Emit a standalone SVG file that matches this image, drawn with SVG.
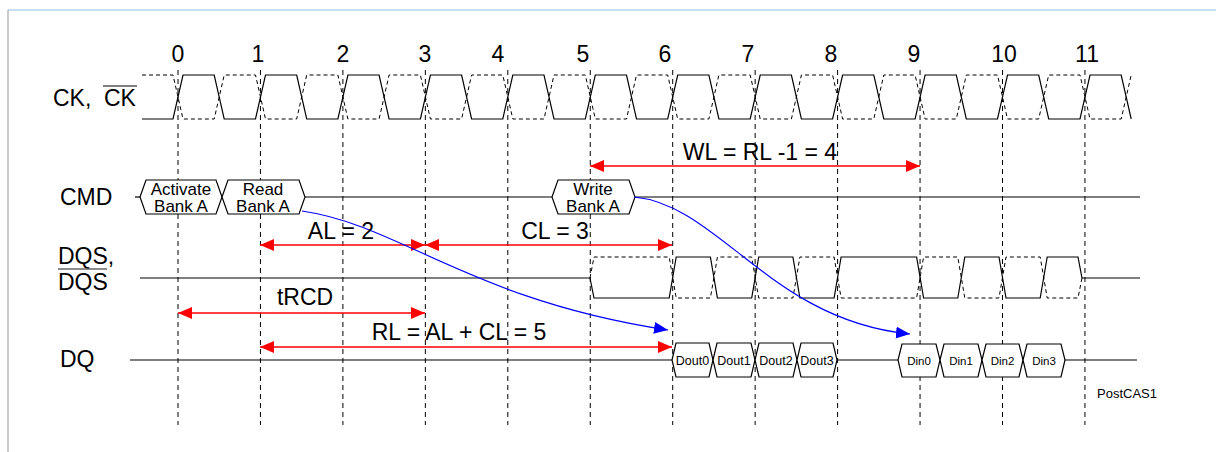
<svg xmlns="http://www.w3.org/2000/svg" width="1216" height="452" viewBox="0 0 1216 452">
<style>
text{font-family:"Liberation Sans",Arial,sans-serif;fill:#000}
.lbl{font-size:23px}
.num{font-size:23px;text-anchor:middle}
.cmd{font-size:17px;text-anchor:middle}
.dout{font-size:12.5px;text-anchor:middle}
.din{font-size:11.5px;text-anchor:middle}
.sol{fill:none;stroke:#000;stroke-width:1.2}
.dsh{fill:none;stroke:#000;stroke-width:1;stroke-dasharray:4 3}
.grid{fill:none;stroke:#000;stroke-width:1;stroke-dasharray:5 4}
.hex{fill:#fff;stroke:#000;stroke-width:1.2}
.red{fill:none;stroke:#f00;stroke-width:1.3;marker-start:url(#ra);marker-end:url(#ra)}
.blue{fill:none;stroke:#00f;stroke-width:1.2;marker-end:url(#ba)}
</style>
<defs>
<marker id="ra" viewBox="0 0 14 12" refX="14" refY="6" markerWidth="14" markerHeight="12" markerUnits="userSpaceOnUse" orient="auto-start-reverse"><path d="M0,0 L14,6 L0,12 Z" fill="#f00"/></marker>
<marker id="ba" viewBox="0 0 14 12" refX="14" refY="6" markerWidth="14" markerHeight="12" markerUnits="userSpaceOnUse" orient="auto"><path d="M0,0 L14,6 L0,12 Z" fill="#00f"/></marker>
</defs>
<rect width="1216" height="452" fill="#fff"/>
<g id="frame">
<line x1="8" y1="10" x2="1216" y2="10" stroke="#8fc3e6" stroke-width="1.2"/>
<line x1="8" y1="10" x2="8" y2="452" stroke="#999" stroke-width="1"/>
</g>
<g id="grid">
<line class="grid" x1="178" y1="70" x2="178" y2="425"/>
<line class="grid" x1="260.45" y1="70" x2="260.45" y2="425"/>
<line class="grid" x1="342.9" y1="70" x2="342.9" y2="425"/>
<line class="grid" x1="425.35" y1="70" x2="425.35" y2="425"/>
<line class="grid" x1="507.8" y1="70" x2="507.8" y2="425"/>
<line class="grid" x1="590.25" y1="70" x2="590.25" y2="425"/>
<line class="grid" x1="672.7" y1="70" x2="672.7" y2="425"/>
<line class="grid" x1="755.15" y1="70" x2="755.15" y2="425"/>
<line class="grid" x1="837.6" y1="70" x2="837.6" y2="425"/>
<line class="grid" x1="920.05" y1="70" x2="920.05" y2="425"/>
<line class="grid" x1="1002.5" y1="70" x2="1002.5" y2="425"/>
<line class="grid" x1="1084.95" y1="70" x2="1084.95" y2="425"/>
</g>
<g id="numbers">
<text class="num" x="178" y="62">0</text>
<text class="num" x="258" y="62">1</text>
<text class="num" x="343" y="62">2</text>
<text class="num" x="425" y="62">3</text>
<text class="num" x="498" y="62">4</text>
<text class="num" x="583" y="62">5</text>
<text class="num" x="665" y="62">6</text>
<text class="num" x="748" y="62">7</text>
<text class="num" x="831" y="62">8</text>
<text class="num" x="914" y="62">9</text>
<text class="num" x="1004" y="62">10</text>
<text class="num" x="1087" y="62">11</text>
</g>
<g id="labels">
<text class="lbl" x="53" y="106">CK,</text>
<text class="lbl" x="104" y="106">CK</text>
<line x1="103" y1="86" x2="137" y2="86" stroke="#000" stroke-width="1.2"/>
<text class="lbl" x="60" y="205">CMD</text>
<text class="lbl" x="58" y="264">DQS,</text>
<line x1="58" y1="269" x2="107" y2="269" stroke="#666" stroke-width="1.5"/>
<text class="lbl" x="58" y="290">DQS</text>
<text class="lbl" x="60" y="367">DQ</text>
<text x="1097" y="398" style="font-size:13px">PostCAS1</text>
</g>
<g id="ck">
<path class="dsh" d="M142,75 L173,75 L183,119 L214.2,119 L224.2,75 L255.5,75 L265.5,119 L296.7,119 L306.7,75 L337.9,75 L347.9,119 L379.1,119 L389.1,75 L420.4,75 L430.4,119 L461.6,119 L471.6,75 L502.8,75 L512.8,119 L544,119 L554,75 L585.3,75 L595.3,119 L626.5,119 L636.5,75 L667.7,75 L677.7,119 L708.9,119 L718.9,75 L750.2,75 L760.2,119 L791.4,119 L801.4,75 L832.6,75 L842.6,119 L873.8,119 L883.8,75 L915.1,75 L925.1,119 L956.3,119 L966.3,75 L997.5,75 L1007.5,119 L1038.7,119 L1048.7,75 L1080,75 L1090,119 L1121.2,119 L1131.2,75"/>
<path class="sol" d="M142,119 L173,119 L183,75 L214.2,75 L224.2,119 L255.5,119 L265.5,75 L296.7,75 L306.7,119 L337.9,119 L347.9,75 L379.1,75 L389.1,119 L420.4,119 L430.4,75 L461.6,75 L471.6,119 L502.8,119 L512.8,75 L544,75 L554,119 L585.3,119 L595.3,75 L626.5,75 L636.5,119 L667.7,119 L677.7,75 L708.9,75 L718.9,119 L750.2,119 L760.2,75 L791.4,75 L801.4,119 L832.6,119 L842.6,75 L873.8,75 L883.8,119 L915.1,119 L925.1,75 L956.3,75 L966.3,119 L997.5,119 L1007.5,75 L1038.7,75 L1048.7,119 L1080,119 L1090,75 L1121.2,75 L1131.2,119"/>
</g>
<g id="cmd">
<line class="sol" x1="135" y1="197" x2="140" y2="197"/>
<line class="sol" x1="305" y1="197" x2="552" y2="197"/>
<line class="sol" x1="635" y1="197" x2="1140" y2="197"/>
</g>
<g id="activate">
<polygon class="hex" points="140,197 146,180 216,180 222,197 216,214 146,214"/>
<text class="cmd" x="181" y="195">Activate</text>
<text class="cmd" x="181" y="212">Bank A</text>
</g>
<g id="read">
<polygon class="hex" points="222,197 228,180 299,180 305,197 299,214 228,214"/>
<text class="cmd" x="263" y="195">Read</text>
<text class="cmd" x="263" y="212">Bank A</text>
</g>
<g id="write">
<polygon class="hex" points="552,197 558,180 629,180 635,197 629,214 558,214"/>
<text class="cmd" x="593" y="195">Write</text>
<text class="cmd" x="593" y="212">Bank A</text>
</g>
<g id="dqs">
<path class="dsh" d="M590,278 L594,257 L669.2,257 L676.2,298 L710.4,298 L717.4,257 L751.7,257 L758.7,298 L792.9,298 L799.9,257 L834.1,257 L841.1,298 L916.6,298 L923.6,257 L957.8,257 L964.8,298 L999,298 L1006,257 L1040.2,257 L1047.2,298 L1078,298 L1082,278"/>
<path class="sol" d="M140,278 L590,278 L594,298 L669.2,298 L676.2,257 L710.4,257 L717.4,298 L751.7,298 L758.7,257 L792.9,257 L799.9,298 L834.1,298 L841.1,257 L916.6,257 L923.6,298 L957.8,298 L964.8,257 L999,257 L1006,298 L1040.2,298 L1047.2,257 L1078,257 L1082,278 L1140,278"/>
</g>
<g id="dq">
<line class="sol" x1="130" y1="360" x2="672" y2="360"/>
<line class="sol" x1="837" y1="360" x2="898" y2="360"/>
<line class="sol" x1="1065" y1="360" x2="1137" y2="360"/>
</g>
<g id="dout0"><polygon class="hex" points="672,360 676,343 709,343 713,360 709,377 676,377"/><text class="dout" x="692.5" y="365">Dout0</text></g>
<g id="dout1"><polygon class="hex" points="713,360 717,343 751,343 755,360 751,377 717,377"/><text class="dout" x="734" y="365">Dout1</text></g>
<g id="dout2"><polygon class="hex" points="755,360 759,343 793,343 797,360 793,377 759,377"/><text class="dout" x="776" y="365">Dout2</text></g>
<g id="dout3"><polygon class="hex" points="797,360 801,343 833,343 837,360 833,377 801,377"/><text class="dout" x="817" y="365">Dout3</text></g>
<g id="din0"><polygon class="hex" points="898,360 902,344 936,344 940,360 936,377 902,377"/><text class="din" x="919" y="365">Din0</text></g>
<g id="din1"><polygon class="hex" points="940,360 944,344 978,344 982,360 978,377 944,377"/><text class="din" x="961" y="365">Din1</text></g>
<g id="din2"><polygon class="hex" points="982,360 986,344 1019,344 1023,360 1019,377 986,377"/><text class="din" x="1002.5" y="365">Din2</text></g>
<g id="din3"><polygon class="hex" points="1023,360 1027,344 1061,344 1065,360 1061,377 1027,377"/><text class="din" x="1044" y="365">Din3</text></g>
<g id="connectors">
<path class="red" d="M590,166 L920,166"/>
<path class="red" d="M260,245 L425,245"/>
<path class="red" d="M425,245 L672,245"/>
<path class="red" d="M178,313 L425,313"/>
<path class="red" d="M260,347 L672,347"/>
<path class="blue" d="M302,211 C400,225 470,300 668,330"/>
<path class="blue" d="M634,197 C720,205 770,320 910,334"/>
</g>
<g id="arrow-labels">
<text class="num" x="760" y="160">WL = RL -1 = 4</text>
<text class="num" x="341" y="239">AL = 2</text>
<text class="num" x="555" y="239">CL = 3</text>
<text class="num" x="305" y="305">tRCD</text>
<text class="num" x="459" y="340">RL = AL + CL = 5</text>
</g>
</svg>
